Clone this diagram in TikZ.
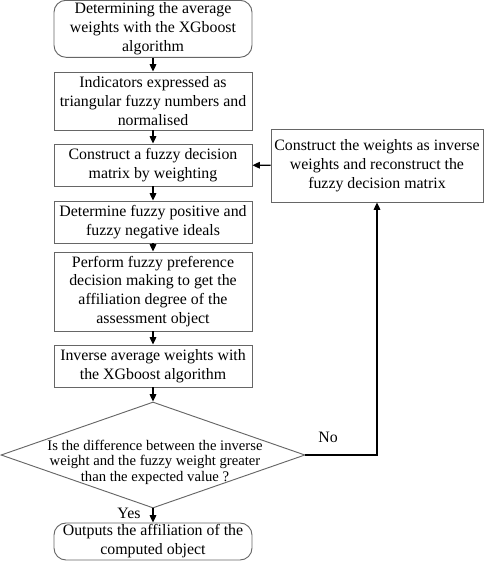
\documentclass[tikz,border=0pt]{standalone}
\usepackage{fontspec}
\setmainfont{Liberation Serif}
\usetikzlibrary{shapes.geometric,arrows.meta}
\begin{document}
\begin{tikzpicture}[x=0.75pt,y=-0.75pt,
  box/.style={draw=black!60, line width=0.7pt, align=center, inner sep=0pt,
    minimum width=148.5pt, font=\fontsize{11.9}{14.2}\selectfont},
  rbox/.style={box, rounded corners=9pt},
  arr/.style={-{Triangle[length=5.5pt,width=5pt]}, line width=0.8pt},
  lbl/.style={font=\fontsize{11.9}{14}\selectfont, inner sep=0pt}
]
\useasboundingbox (0,0) rectangle (484,561);
\node[rbox, minimum height=42.75pt] (b1) at (153,28.8) {Determining the average\\weights with the XGboost\\algorithm};
\node[box, minimum height=43.5pt] (b2) at (153,101) {Indicators expressed as\\triangular fuzzy numbers and\\normalised};
\node[box, minimum height=31.5pt] (b3) at (153,165) {Construct a fuzzy decision\\matrix by weighting};
\node[box, minimum height=31.5pt] (b4) at (153,222) {Determine fuzzy positive and\\fuzzy negative ideals};
\node[box, minimum height=59.25pt] (b5) at (153,291.5) {Perform fuzzy preference\\decision making to get the\\affiliation degree of the\\assessment object};
\node[box, minimum height=31.5pt] (b6) at (153,366) {Inverse average weights with\\the XGboost algorithm};
\node[draw=black!60, line width=0.7pt, diamond, inner sep=0pt, minimum width=228pt, minimum height=79.5pt] (d) at (153,455) {};
\node[align=center, inner sep=0pt, font=\fontsize{11}{11.6}\selectfont] (dt) at (155,462) {Is the difference between the inverse\\weight and the fuzzy weight greater\\than the expected value ?};
\node[rbox, minimum height=27.75pt] (b7) at (153,541.5) {Outputs the affiliation of the\\computed object};
\node[box, minimum width=159pt, minimum height=54.75pt] (rb) at (377,165.5) {Construct the weights as inverse\\weights and reconstruct the\\fuzzy decision matrix};
\draw[arr] (b1) -- (b2);
\draw[arr] (b2) -- (b3);
\draw[arr] (b3) -- (b4);
\draw[arr] (b4) -- (b5);
\draw[arr] (b5) -- (b6);
\draw[arr] (b6) -- (d);
\draw[arr] (d) -- (b7);
\draw[arr] (d.east) -| (rb.south);
\draw[arr] (rb) -- (b3);
\node[lbl] (no) at (328,437) {No};
\node[lbl] (yes) at (129,513) {Yes};
\end{tikzpicture}
\end{document}
